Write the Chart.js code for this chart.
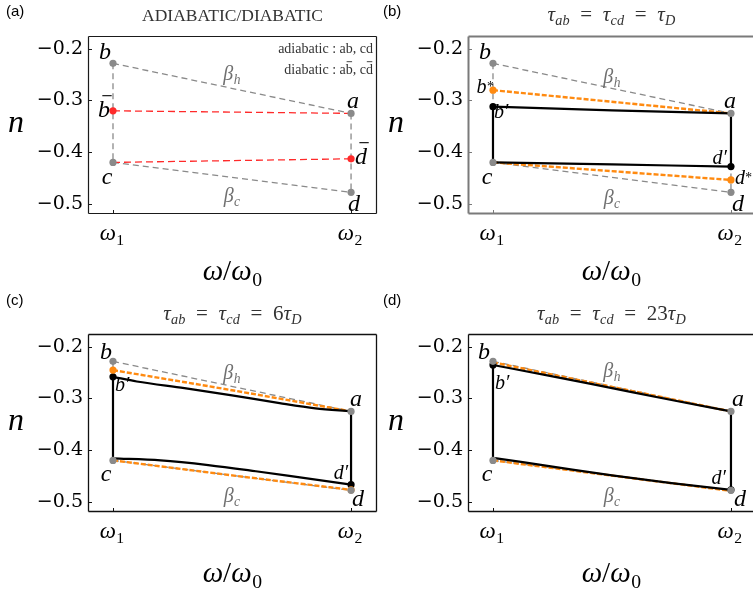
<!DOCTYPE html>
<html>
<head>
<meta charset="utf-8">
<script src="https://cdn.jsdelivr.net/npm/chart.js@4.4.1/dist/chart.umd.min.js"></script>
<style>
  html, body { margin: 0; padding: 0; background: #fff; overflow: hidden; }
  #wrap { position: relative; width: 755px; height: 594px; overflow: hidden; }
  canvas { position: absolute; }
</style>
</head>
<body>
<div id="wrap">
  <canvas id="panelA" width="378" height="294" style="left:0;top:0;width:378px;height:294px"></canvas>
  <canvas id="panelB" width="377" height="294" style="left:378px;top:0;width:377px;height:294px"></canvas>
  <canvas id="panelC" width="378" height="300" style="left:0;top:294px;width:378px;height:300px"></canvas>
  <canvas id="panelD" width="377" height="300" style="left:378px;top:294px;width:377px;height:300px"></canvas>
</div>
<script>
// frequency axis: omega_1 -> 0, omega_2 -> 1
var omegaTicks = [0, 1];
var omegaSub = ['1', '2'];
var nTicks = [-0.2, -0.3, -0.4, -0.5];

// isotherms beta_h (b -> a) and beta_c (c -> d)
var edgeW = [0, 1];
var betaHotN = [-0.228, -0.325];
var betaColdN = [-0.42, -0.478];

// (a) sudden quench states: b-bar at omega_1, d-bar at omega_2
var barN = [-0.32, -0.413];

// (b) tau = tau_D
var starHotN_b = [-0.28, -0.325];
var starColdN_b = [-0.42, -0.454];
var primeW_b = [0, 0.5, 1];
var primeHotN_b = [-0.312, -0.319, -0.325];
var primeColdN_b = [-0.42, -0.424, -0.428];

// (c) tau = 6 tau_D
var starW_c = [0, 0.5, 1];
var starHotN_c = [-0.245, -0.284, -0.325];
var starColdN_c = [-0.42, -0.449, -0.477];
var primeHotW_c = [0, 0.1, 0.3, 0.5, 0.7, 0.85, 1];
var primeHotN_c = [-0.258, -0.267, -0.28, -0.294, -0.309, -0.319, -0.325];
var primeColdW_c = [0, 0.2, 0.4, 0.6, 0.8, 1];
var primeColdN_c = [-0.416, -0.42, -0.429, -0.441, -0.454, -0.467];

// (d) tau = 23 tau_D
var starHotN_d = [-0.23, -0.325];
var starColdN_d = [-0.42, -0.479];
var primeW_d = [0, 0.25, 0.5, 0.75, 1];
var primeHotN_d = [-0.235, -0.257, -0.28, -0.303, -0.325];
var primeColdN_d = [-0.415, -0.432, -0.449, -0.464, -0.477];

var GRAY = '#8a8a8a', RED = '#ff2a2a', ORANGE = '#ff8a10', LABEL_GRAY = '#707070';

function pts(w, n) {
    return w.map(function(x, i) { return { x: x, y: n[i] }; });
}
function mean(a) { return (a[0] + a[a.length - 1]) / 2; }

function line(w, n, color, width, dash, tension) {
    return {
        data: pts(w, n), showLine: true, pointRadius: 0,
        borderColor: color, borderWidth: width, borderDash: dash || [],
        tension: tension || 0, cubicInterpolationMode: tension ? 'monotone' : 'default'
    };
}
function dots(w, n, color) {
    return {
        data: pts(w, n), showLine: false, pointRadius: 3.6, pointBorderWidth: 0,
        pointBackgroundColor: color, backgroundColor: color, borderColor: color
    };
}

// dashed gray isotherms and isochores shared by every panel
function grayFrame() {
    return [
        line(edgeW, betaHotN, GRAY, 1.3, [6, 4]),
        line(edgeW, betaColdN, GRAY, 1.3, [6, 4]),
        line([0, 0], [betaHotN[0], betaColdN[0]], GRAY, 1.3, [6, 4]),
        line([1, 1], [betaHotN[1], betaColdN[1]], GRAY, 1.3, [6, 4])
    ];
}

// ---- math text ----
function fontOf(size, italic) {
    return (italic ? 'italic ' : '') + size + 'px "Liberation Serif", "Times New Roman", serif';
}
function layoutMath(ctx, tokens, size) {
    var total = 0;
    var items = tokens.map(function(tk) {
        var it = tk.it !== false;
        ctx.font = fontOf(size, it);
        var w = ctx.measureText(tk.t).width;
        var extra = 0, script = tk.sub || tk.sup;
        if (script) {
            ctx.font = fontOf(size * 0.68, /[A-Za-z]/.test(script));
            extra = ctx.measureText(script).width + size * 0.03;
        }
        var item = { tk: tk, it: it, x: total, w: w };
        total += w + extra;
        return item;
    });
    return { items: items, width: total };
}
function drawMath(ctx, tokens, x, y, size, color, align) {
    var lay = layoutMath(ctx, tokens, size);
    var x0 = align === 'left' ? x : align === 'right' ? x - lay.width : x - lay.width / 2;
    ctx.save();
    ctx.fillStyle = color;
    ctx.strokeStyle = color;
    ctx.textAlign = 'left';
    ctx.textBaseline = 'alphabetic';
    lay.items.forEach(function(item) {
        var tk = item.tk, px = x0 + item.x;
        ctx.font = fontOf(size, item.it);
        ctx.fillText(tk.t, px, y);
        if (tk.bar) {
            var sl = item.it ? size * 0.12 : 0;
            ctx.lineWidth = Math.max(0.9, size / 22);
            ctx.beginPath();
            ctx.moveTo(px + item.w * 0.12 + sl, y - size * 0.88);
            ctx.lineTo(px + item.w * 0.9 + sl, y - size * 0.88);
            ctx.stroke();
        }
        var script = tk.sub || tk.sup;
        if (script) {
            ctx.font = fontOf(size * 0.68, /[A-Za-z]/.test(script));
            var raise = tk.raise != null ? tk.raise : 0.42;
            var sy = tk.sub ? y + size * 0.2 : y - size * raise;
            ctx.fillText(script, px + item.w + size * 0.02, sy);
        }
    });
    ctx.restore();
}

// ---- frame, ticks and text annotations ----
function decor(spec) {
    return {
        id: 'decor',
        afterDraw: function(chart) {
            var ctx = chart.ctx, xs = chart.scales.x, ys = chart.scales.y, a = chart.chartArea;
            ctx.save();
            ctx.strokeStyle = spec.frameColor;
            ctx.lineWidth = spec.frameWidth;
            var top = a.top + 0.5, bot = a.bottom - 0.5, lx = a.left + 0.5;
            var rx = spec.frameRight ? a.right - 0.5 : chart.width - 2;
            ctx.beginPath();
            ctx.moveTo(lx, top); ctx.lineTo(rx, top);
            ctx.moveTo(lx, top); ctx.lineTo(lx, bot);
            ctx.moveTo(lx, bot); ctx.lineTo(rx, bot);
            if (spec.frameRight) { ctx.moveTo(rx, top); ctx.lineTo(rx, bot); }
            ctx.stroke();
            // inward tick marks
            ctx.lineWidth = 1;
            ctx.beginPath();
            nTicks.forEach(function(v) {
                var py = Math.round(ys.getPixelForValue(v)) + 0.5;
                ctx.moveTo(a.left, py);
                ctx.lineTo(a.left + 4, py);
            });
            omegaTicks.forEach(function(v) {
                var px = Math.round(xs.getPixelForValue(v)) + 0.5;
                ctx.moveTo(px, a.bottom);
                ctx.lineTo(px, a.bottom - 4);
            });
            ctx.stroke();
            ctx.restore();

            omegaTicks.forEach(function(v, i) {
                drawMath(ctx, [{ t: 'ω', sub: omegaSub[i] }], xs.getPixelForValue(v) - 1, a.bottom + 26, 23, '#000', 'center');
            });
            var cx = (a.left + a.right) / 2;
            drawMath(ctx, [{ t: 'ω' }, { t: '/', it: false }, { t: 'ω', sub: '0' }], cx, a.bottom + spec.xTitleDy, 29, '#000', 'center');
            drawMath(ctx, [{ t: 'n' }], a.left - 72, (a.top + a.bottom) / 2 + 7, 32, '#000', 'center');
            drawMath(ctx, spec.title, cx, a.top - spec.titleDy, spec.titleSize, '#333', 'center');

            ctx.save();
            ctx.font = '15px "Liberation Sans", Arial, sans-serif';
            ctx.fillStyle = '#000';
            ctx.textBaseline = 'alphabetic';
            ctx.fillText(spec.letter, spec.letterX, spec.letterY);
            ctx.restore();

            (spec.notes || []).forEach(function(nt) {
                drawMath(ctx, nt.tk, a.right - 4, a.top + nt.dy, 14, '#333', 'right');
            });
            spec.labels.forEach(function(lb) {
                drawMath(ctx, lb.tk, xs.getPixelForValue(lb.x) + lb.dx, ys.getPixelForValue(lb.y) + lb.dy,
                    lb.size || 24, lb.color || '#000', lb.align || 'center');
            });
        }
    };
}

function makeChart(id, datasets, spec) {
    return new Chart(document.getElementById(id).getContext('2d'), {
        type: 'scatter',
        data: { datasets: datasets.slice().reverse() },
        options: {
            responsive: false,
            animation: false,
            layout: {
                autoPadding: false,
                padding: { top: spec.padTop, bottom: spec.padBottom, left: 0, right: spec.padRight }
            },
            plugins: { legend: { display: false }, tooltip: { enabled: false } },
            scales: {
                x: { type: 'linear', display: false, min: -0.105, max: spec.xMax },
                y: {
                    type: 'linear', position: 'left', min: -0.52, max: -0.175,
                    afterFit: function(scale) { scale.width = spec.yWidth; },
                    afterBuildTicks: function(scale) {
                        scale.ticks = nTicks.map(function(v) { return { value: v }; });
                    },
                    grid: { display: false, drawTicks: false },
                    border: { display: false },
                    ticks: {
                        autoSkip: false, padding: 5, color: '#000',
                        font: { family: 'DejaVu Serif', size: 19 },
                        callback: function(v) { return '\u2212' + Math.abs(v).toFixed(1); }
                    }
                }
            }
        },
        plugins: [decor(spec)]
    });
}

var topRow = { padTop: 36, padBottom: 80, xTitleDy: 66, titleDy: 15, letterY: 16 };
var botRow = { padTop: 40, padBottom: 82, xTitleDy: 70, titleDy: 14, letterY: 11 };
var leftCol = { yWidth: 88, padRight: 1, xMax: 1.109, frameRight: true, letterX: 6 };
var rightCol = { yWidth: 90, padRight: 0, xMax: 1.101, frameRight: false, letterX: 5 };
function merge() {
    var o = {};
    for (var i = 0; i < arguments.length; i++) for (var k in arguments[i]) o[k] = arguments[i][k];
    return o;
}

function tauTitle(tail) {
    var eq = { t: '\u2002=\u2002', it: false };
    return [{ t: 'τ', sub: 'ab' }, eq, { t: 'τ', sub: 'cd' }, eq]
        .concat(tail, [{ t: 'τ', sub: 'D' }]);
}
function isoLabels(hdy, cdy) {
    return [
        { tk: [{ t: 'β', sub: 'h' }], x: 0.5, y: mean(betaHotN), dx: 0, dy: hdy, size: 20, color: LABEL_GRAY },
        { tk: [{ t: 'β', sub: 'c' }], x: 0.5, y: mean(betaColdN), dx: 0, dy: cdy, size: 20, color: LABEL_GRAY }
    ];
}

// (a) adiabatic and sudden strokes
makeChart('panelA', grayFrame().concat([
    line([0, 1], [barN[0], betaHotN[1]], RED, 1.3, [7, 4]),
    line([0, 1], [betaColdN[0], barN[1]], RED, 1.3, [7, 4]),
    dots([0, 1, 0, 1], [betaHotN[0], betaHotN[1], betaColdN[0], betaColdN[1]], GRAY),
    dots([0, 1], barN, RED)
]), merge(topRow, leftCol, {
    letter: '(a)', frameColor: '#1a1a1a', frameWidth: 1.2, titleSize: 17.5,
    title: [{ t: 'ADIABATIC/DIABATIC', it: false }],
    notes: [
        { tk: [{ t: 'adiabatic : ab, cd', it: false }], dy: 17 },
        { tk: [{ t: 'diabatic : a', it: false }, { t: 'b', it: false, bar: true },
               { t: ', c', it: false }, { t: 'd', it: false, bar: true }], dy: 38 }
    ],
    labels: [
        { tk: [{ t: 'b' }], x: 0, y: betaHotN[0], dx: -8, dy: -4 },
        { tk: [{ t: 'a' }], x: 1, y: betaHotN[1], dx: 2, dy: -5 },
        { tk: [{ t: 'c' }], x: 0, y: betaColdN[0], dx: -6, dy: 22 },
        { tk: [{ t: 'd' }], x: 1, y: betaColdN[1], dx: 3, dy: 19 },
        { tk: [{ t: 'b', bar: true }], x: 0, y: barN[0], dx: -9, dy: 6 },
        { tk: [{ t: 'd', bar: true }], x: 1, y: barN[1], dx: 10, dy: 5 }
    ].concat(isoLabels(-8, 25))
}));

// finite-time cycle: orange sudden reference, black finite-time loop
function cycleSets(starHotW, starHotN, starColdW, starColdN, hotW, hotN, coldW, coldN, starDots, tension) {
    var sets = grayFrame().concat([
        line(starHotW, starHotN, ORANGE, 2.4, [5, 2], tension),
        line(starColdW, starColdN, ORANGE, 2.4, [5, 2], tension),
        line(hotW, hotN, '#000', 2.2, null, tension),
        line([1, 1], [hotN[hotN.length - 1], coldN[coldN.length - 1]], '#000', 2.2),
        line(coldW, coldN, '#000', 2.2, null, tension),
        line([0, 0], [coldN[0], hotN[0]], '#000', 2.2),
        dots([0, 1], [hotN[0], coldN[coldN.length - 1]], '#000')
    ]);
    if (starDots) sets.push(dots([0, 1], [starHotN[0], starColdN[starColdN.length - 1]], ORANGE));
    sets.push(dots([0, 1, 0, 1], [betaHotN[0], betaHotN[1], betaColdN[0], betaColdN[1]], GRAY));
    return sets;
}

makeChart('panelB', cycleSets(edgeW, starHotN_b, edgeW, starColdN_b, primeW_b, primeHotN_b, primeW_b, primeColdN_b, true, 0.4),
    merge(topRow, rightCol, {
        letter: '(b)', frameColor: '#7a7a7a', frameWidth: 2, titleSize: 21, title: tauTitle([]),
        labels: [
            { tk: [{ t: 'b' }], x: 0, y: betaHotN[0], dx: -8, dy: -4 },
            { tk: [{ t: 'a' }], x: 1, y: betaHotN[1], dx: -1, dy: -5 },
            { tk: [{ t: 'c' }], x: 0, y: betaColdN[0], dx: -6, dy: 22 },
            { tk: [{ t: 'd' }], x: 1, y: betaColdN[1], dx: 7, dy: 19 },
            { tk: [{ t: 'b', sup: '*', raise: 0.12 }], x: 0, y: starHotN_b[0], dx: 1, dy: 3, size: 20, align: 'right' },
            { tk: [{ t: 'd', sup: '*', raise: 0.12 }], x: 1, y: starColdN_b[1], dx: 4, dy: 4, size: 20, align: 'left' },
            { tk: [{ t: 'b′' }], x: 0, y: primeHotN_b[0], dx: 1, dy: 11, size: 20, align: 'left' },
            { tk: [{ t: 'd′' }], x: 1, y: primeColdN_b[2], dx: -4, dy: -3, size: 20, align: 'right' }
        ].concat(isoLabels(-5, 27))
    }));

makeChart('panelC', cycleSets(starW_c, starHotN_c, starW_c, starColdN_c, primeHotW_c, primeHotN_c, primeColdW_c, primeColdN_c, true, 0.4),
    merge(botRow, leftCol, {
        letter: '(c)', frameColor: '#111', frameWidth: 1.3, titleSize: 21, title: tauTitle([{ t: '6', it: false }]),
        labels: [
            { tk: [{ t: 'b' }], x: 0, y: betaHotN[0], dx: -7, dy: -2 },
            { tk: [{ t: 'a' }], x: 1, y: betaHotN[1], dx: 5, dy: -5 },
            { tk: [{ t: 'c' }], x: 0, y: betaColdN[0], dx: -7, dy: 21 },
            { tk: [{ t: 'd' }], x: 1, y: betaColdN[1], dx: 7, dy: 16 },
            { tk: [{ t: 'b′' }], x: 0, y: primeHotN_c[0], dx: 2, dy: 14, size: 20, align: 'left' },
            { tk: [{ t: 'd′' }], x: 1, y: primeColdN_c[5], dx: -3, dy: -6, size: 20, align: 'right' }
        ].concat(isoLabels(-7, 27))
    }));

makeChart('panelD', cycleSets(edgeW, starHotN_d, edgeW, starColdN_d, primeW_d, primeHotN_d, primeW_d, primeColdN_d, false, 0.4),
    merge(botRow, rightCol, {
        letter: '(d)', frameColor: '#111', frameWidth: 1.3, titleSize: 21, title: tauTitle([{ t: '23', it: false }]),
        labels: [
            { tk: [{ t: 'b' }], x: 0, y: betaHotN[0], dx: -9, dy: -2 },
            { tk: [{ t: 'a' }], x: 1, y: betaHotN[1], dx: 7, dy: -5 },
            { tk: [{ t: 'c' }], x: 0, y: betaColdN[0], dx: -6, dy: 21 },
            { tk: [{ t: 'd' }], x: 1, y: betaColdN[1], dx: 9, dy: 16 },
            { tk: [{ t: 'b′' }], x: 0, y: primeHotN_d[0], dx: 2, dy: 24, size: 20, align: 'left' },
            { tk: [{ t: 'd′' }], x: 1, y: primeColdN_d[4], dx: -5, dy: -6, size: 20, align: 'right' }
        ].concat(isoLabels(-9, 27))
    }));
</script>
</body>
</html>
